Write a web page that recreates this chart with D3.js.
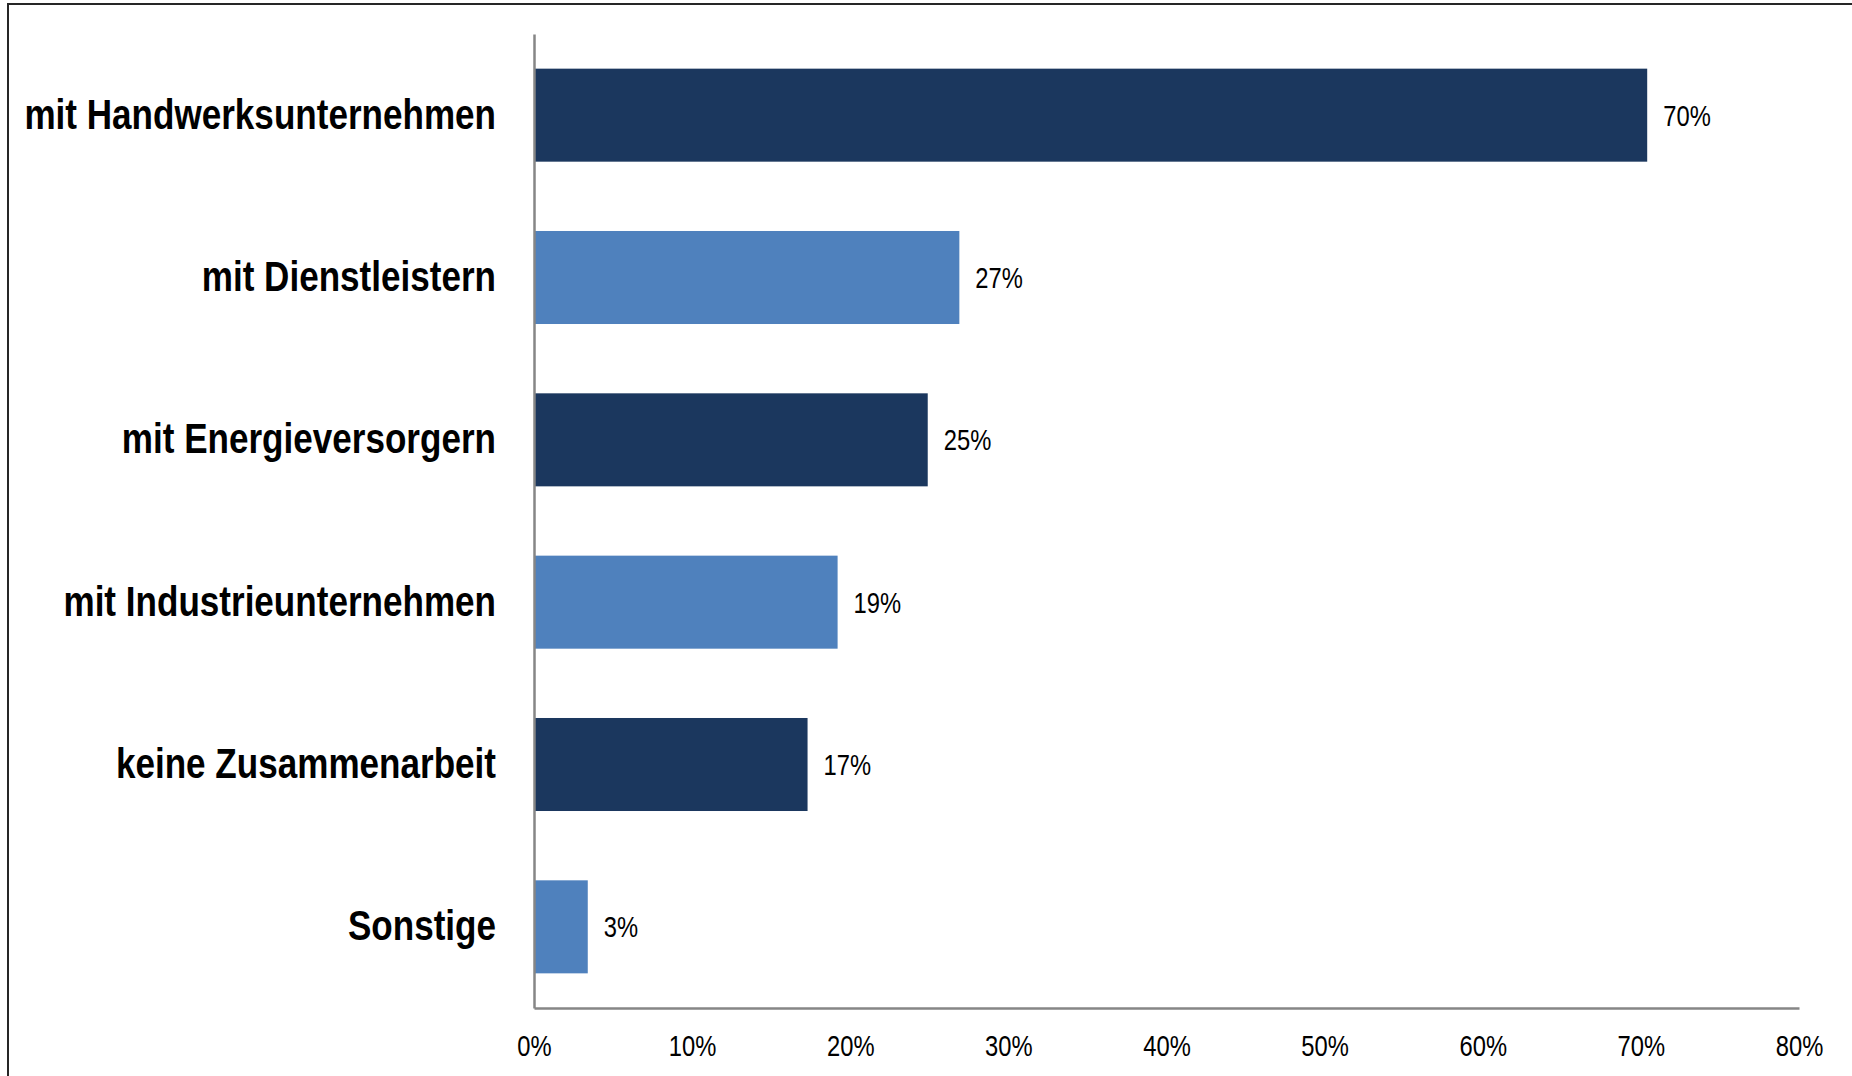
<!DOCTYPE html>
<html>
<head>
<meta charset="utf-8">
<script src="https://cdn.jsdelivr.net/npm/d3@7"></script>
<style>
  html, body { margin: 0; padding: 0; background: #fff; }
  svg { display: block; }
</style>
</head>
<body>
<svg id="chart" width="1852" height="1076"></svg>
<script>
const categories = [
  "mit Handwerksunternehmen",
  "mit Dienstleistern",
  "mit Energieversorgern",
  "mit Industrieunternehmen",
  "keine Zusammenarbeit",
  "Sonstige"
];
const values = [70.4, 26.9, 24.9, 19.2, 17.3, 3.4];
const barColors = ["#1b375e", "#4f81bd", "#1b375e", "#4f81bd", "#1b375e", "#4f81bd"];
const xTicks = [0, 10, 20, 30, 40, 50, 60, 70, 80];

const FONT = "'Liberation Sans', Arial, sans-serif";
const NARROW = 0.82;
const NARROW_BOLD = 0.835;

const svg = d3.select("#chart");

// outer frame
svg.append("rect")
  .attr("x", 8).attr("y", 4)
  .attr("width", 1900).attr("height", 1200)
  .attr("fill", "none").attr("stroke", "#262626").attr("stroke-width", 2);

const x = d3.scaleLinear().domain([0, 80]).range([534, 1799]);
const y = d3.scaleBand().domain(categories).range([34, 1008])
  .paddingInner(0.427).paddingOuter(0.2135);

const data = categories.map((c, i) => ({ c, v: values[i], color: barColors[i] }));

// bars
svg.append("g").selectAll("rect").data(data).join("rect")
  .attr("x", x(0) + 1)
  .attr("y", d => y(d.c))
  .attr("width", d => x(d.v) - x(0) - 1)
  .attr("height", y.bandwidth())
  .attr("fill", d => d.color);

// value labels
svg.append("g").selectAll("text").data(data).join("text")
  .attr("transform", d => `translate(${x(d.v) + 16},${y(d.c) + y.bandwidth() / 2}) scale(${NARROW},1)`)
  .attr("dy", "0.36em")
  .attr("font-family", FONT)
  .attr("font-size", 29)
  .attr("fill", "#000")
  .text(d => Math.round(d.v) + "%");

// x axis
const xAxis = svg.append("g")
  .attr("transform", "translate(0,1008)")
  .call(d3.axisBottom(x).tickValues(xTicks).tickFormat(d => d + "%")
    .tickSize(0).tickPadding(27));
xAxis.select(".domain").attr("stroke", "#868686").attr("stroke-width", 2.5);
xAxis.selectAll(".tick text")
  .attr("y", 0)
  .attr("transform", `translate(0,27) scale(${NARROW},1)`)
  .attr("font-family", FONT).attr("font-size", 29).attr("fill", "#000");

// y axis
const yAxis = svg.append("g")
  .attr("transform", "translate(534,0)")
  .call(d3.axisLeft(y).tickSize(0).tickPadding(38));
yAxis.select(".domain").attr("stroke", "#868686").attr("stroke-width", 2.5);
yAxis.selectAll(".tick text")
  .attr("x", 0)
  .attr("transform", `translate(-38,0) scale(${NARROW_BOLD},1)`)
  .attr("font-family", FONT).attr("font-size", 42).attr("font-weight", "bold")
  .attr("fill", "#000");
</script>
</body>
</html>
